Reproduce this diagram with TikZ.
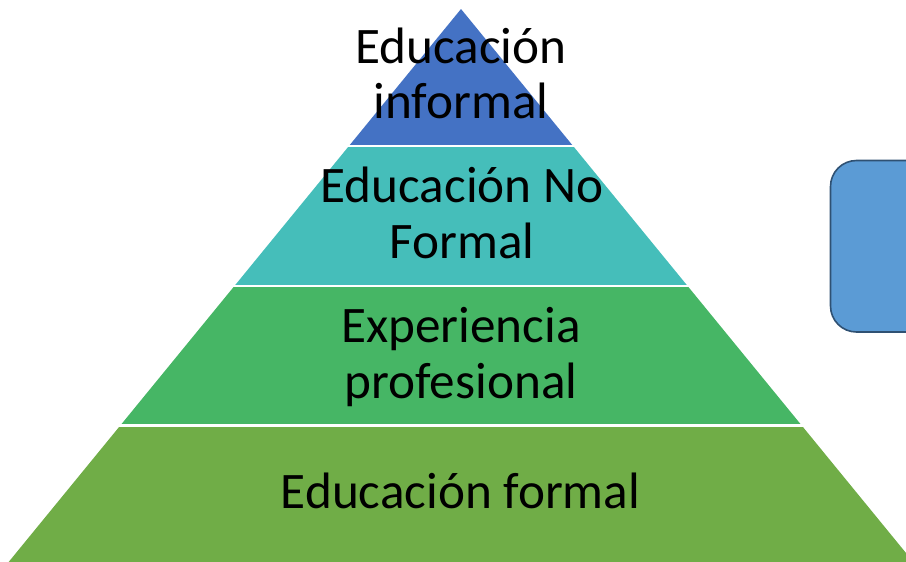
\documentclass[tikz,border=0pt]{standalone}
\usepackage{fontspec}
\setmainfont{Carlito}
\definecolor{cTop}{HTML}{4472C4}
\definecolor{cTeal}{HTML}{45BEBA}
\definecolor{cGreen}{HTML}{46B665}
\definecolor{cOlive}{HTML}{70AD47}
\definecolor{cBox}{HTML}{5B9BD5}
\definecolor{cBoxLine}{HTML}{2F5173}
\tikzset{
  lbl/.style={anchor=base, inner sep=0pt, font=\fontsize{51.2}{56}\selectfont, text=black},
  gap/.style={white, line width=2.6pt}
}
\begin{document}
\begin{tikzpicture}[x=1pt,y=-1pt]
\useasboundingbox (0,0) rectangle (906,562);
\clip (0,0) rectangle (906,562);
\coordinate (A) at (461,9);
\coordinate (L) at (-2,575);
\coordinate (R) at (924,575);
\begin{scope}\clip (0,0) rectangle (906,146);
  \fill[cTop] (A) -- (L) -- (R) -- cycle;\end{scope}
\begin{scope}\clip (0,146) rectangle (906,286);
  \fill[cTeal] (A) -- (L) -- (R) -- cycle;\end{scope}
\begin{scope}\clip (0,286) rectangle (906,425.5);
  \fill[cGreen] (A) -- (L) -- (R) -- cycle;\end{scope}
\begin{scope}\clip (0,425.5) rectangle (906,600);
  \fill[cOlive] (A) -- (L) -- (R) -- cycle;\end{scope}
\draw[gap] (0,146) -- (906,146);
\draw[gap] (0,286) -- (906,286);
\draw[gap] (0,425.5) -- (906,425.5);
\draw[cBoxLine, fill=cBox, line width=1.6pt, rounded corners=26pt] (830.5,160.5) rectangle (960,332);
\node[lbl] (t1a) at (461,63) {Educación};
\node[lbl] (t1b) at (461,118) {informal};
\node[lbl] (t2a) at (462,202) {Educación No};
\node[lbl] (t2b) at (462,258) {Formal};
\node[lbl] (t3a) at (461,342) {Experiencia};
\node[lbl] (t3b) at (461,398) {profesional};
\node[lbl] (t4) at (460.5,508) {Educación formal};
\end{tikzpicture}
\end{document}
